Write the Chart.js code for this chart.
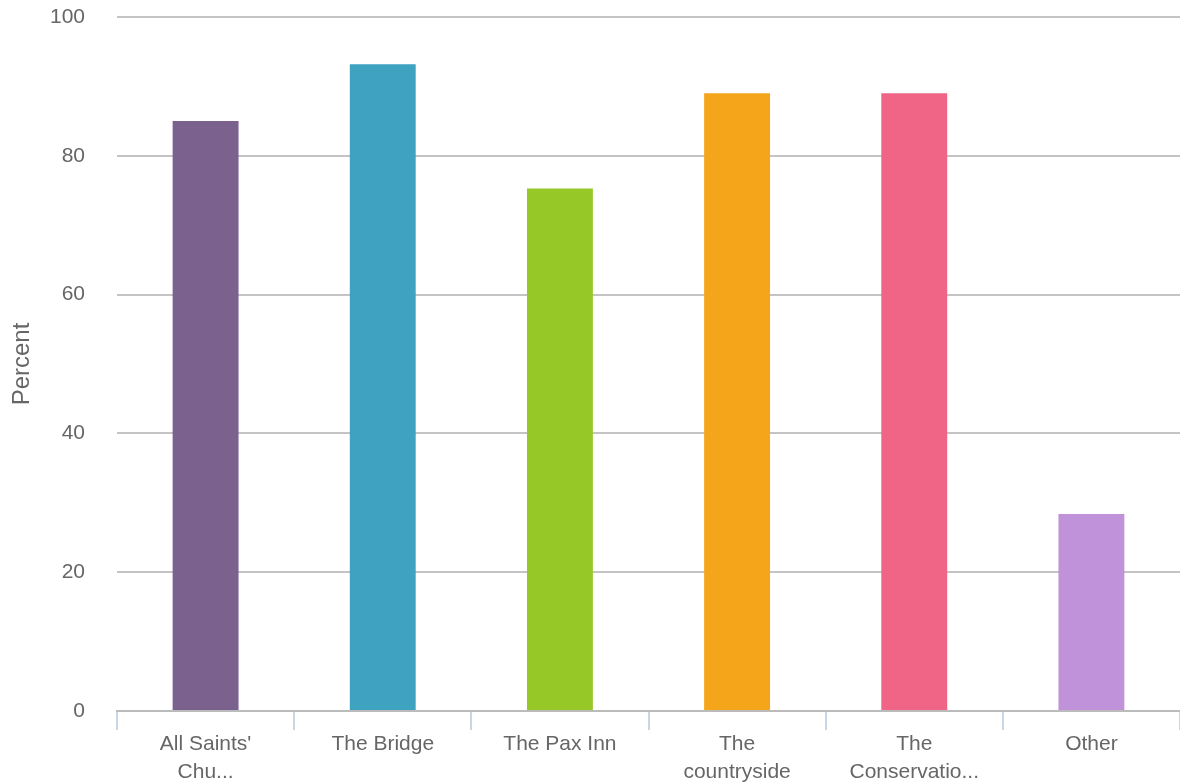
<!DOCTYPE html>
<html>
<head>
<meta charset="utf-8">
<script src="https://cdn.jsdelivr.net/npm/chart.js@4/dist/chart.umd.min.js"></script>
<style>
html,body{margin:0;padding:0;background:#fff;}
#wrap{width:1180px;height:784px;position:relative;}
</style>
</head>
<body>
<div id="wrap"><canvas id="c"></canvas></div>
<script>
const categories = [["All Saints'", "Chu..."], "The Bridge", "The Pax Inn", ["The", "countryside"], ["The", "Conservatio..."], "Other"];
const values = [85.0, 93.2, 75.3, 89.0, 89.0, 28.4];
const barColors = ["#7b618e", "#3fa2c1", "#96c828", "#f5a51a", "#f06586", "#bf92da"];
const yTicks = [0, 20, 40, 60, 80, 100];
const yTitle = "Percent";

Chart.defaults.font.family = "'Liberation Sans', Arial, sans-serif";
Chart.defaults.color = "#666";

new Chart(document.getElementById('c'), {
  type: 'bar',
  data: {
    labels: categories,
    datasets: [{
      data: values,
      backgroundColor: barColors,
      borderWidth: 0,
      categoryPercentage: 1.0,
      barPercentage: 0.372
    }]
  },
  options: {
    responsive: true,
    maintainAspectRatio: false,
    animation: false,
    layout: { padding: { top: 0, right: 0, bottom: 0, left: 0 } },
    plugins: { legend: { display: false }, tooltip: { enabled: false } },
    scales: {
      x: {
        offset: true,
        grid: { drawOnChartArea: false, drawTicks: true, tickLength: 19, color: '#c9d6e5', lineWidth: 2 },
        border: { color: '#bbbbbb', width: 2 },
        ticks: { font: { size: 21, lineHeight: 1.33 }, color: '#666', padding: 0, maxRotation: 0, autoSkip: false },
        afterFit: (s) => { s.height = 73; }
      },
      y: {
        min: 0, max: 100,
        afterBuildTicks: (s) => { s.ticks = yTicks.map(v => ({ value: v })); },
        grid: { color: '#c4c4c4', lineWidth: 2, drawTicks: false },
        border: { display: false },
        ticks: { font: { size: 21 }, color: '#666', padding: 32 },
        title: { display: true, text: yTitle, font: { size: 24 }, color: '#666', padding: { top: 8, bottom: 0 } },
        afterFit: (s) => { s.width = 117; s.paddingTop = 17; s.paddingBottom = 0; }
      }
    }
  }
});
</script>
</body>
</html>
